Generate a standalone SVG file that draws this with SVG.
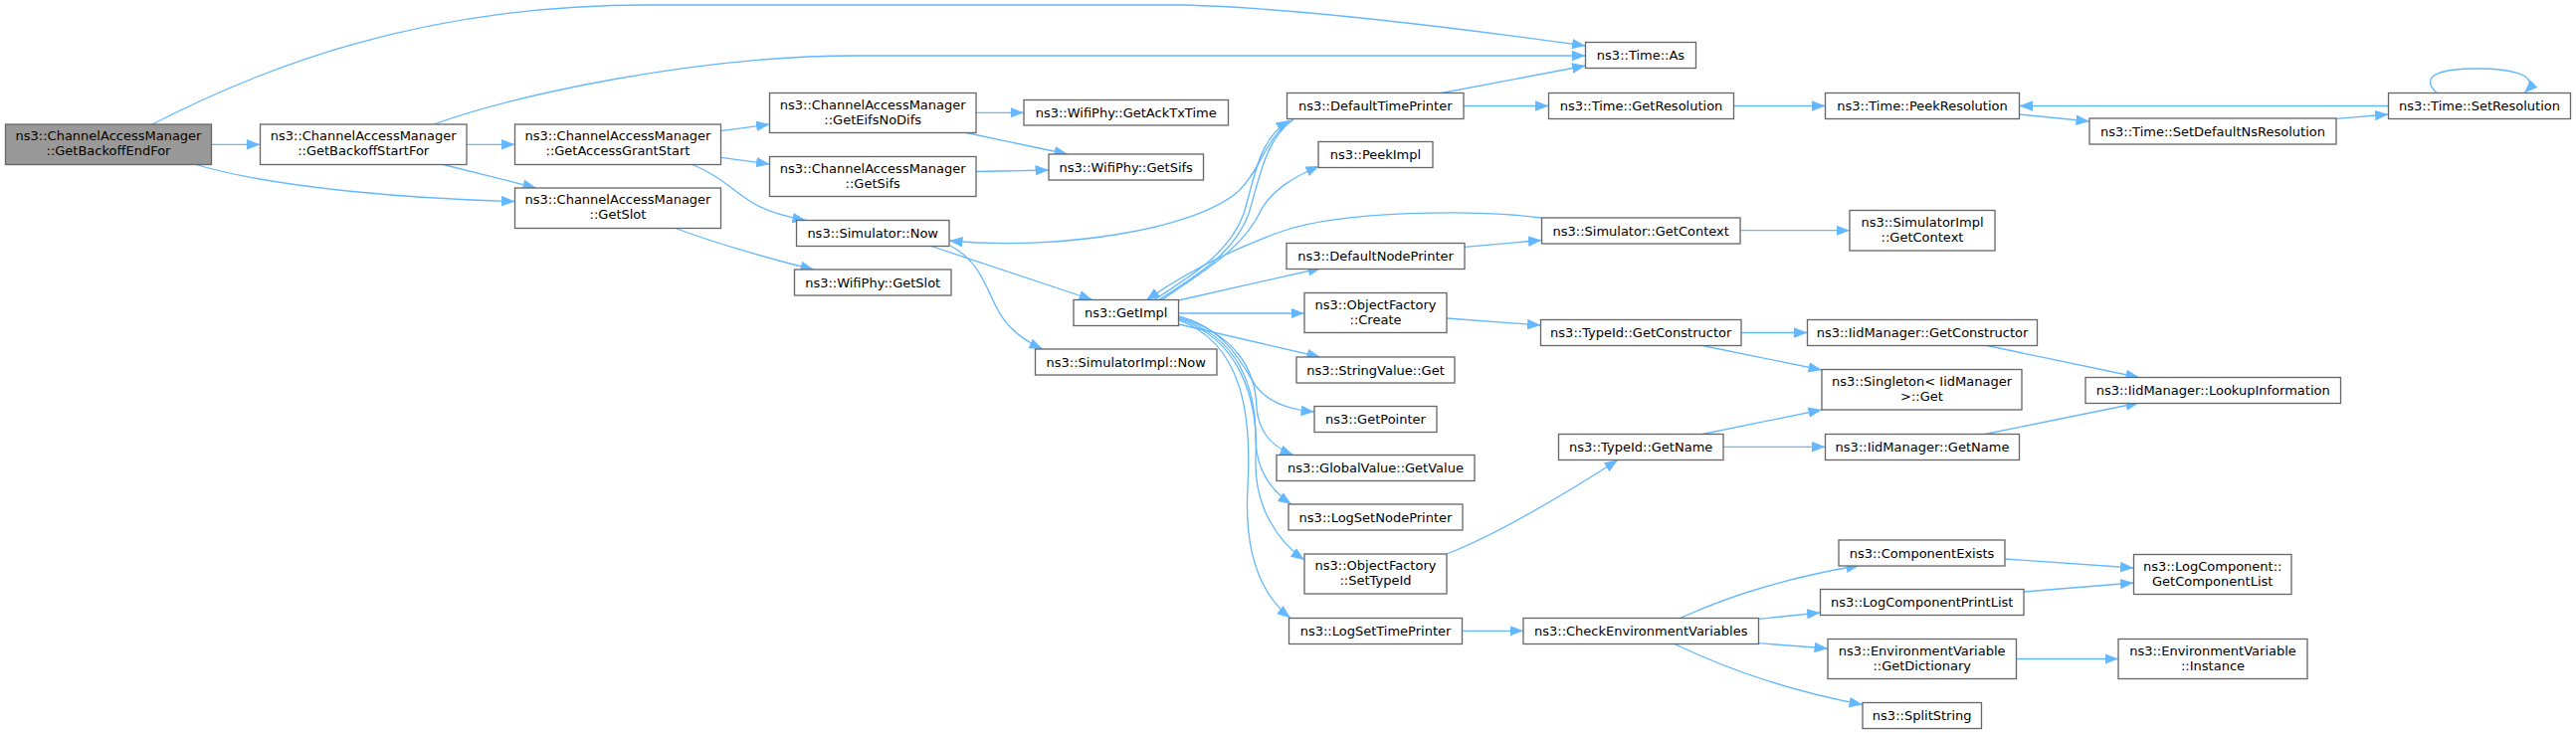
<svg xmlns="http://www.w3.org/2000/svg" width="2589" height="737" viewBox="0 0 2589 737">
<style>
.n rect{fill:#ffffff;stroke:#666666;stroke-width:1.3}
.root rect{fill:#999999}
.n text{font-family:"DejaVu Sans","Liberation Sans",sans-serif;font-size:13px;fill:#000000;text-anchor:middle}
#edges path{fill:none;stroke:#63B8FF;stroke-width:1.3;marker-end:url(#a)}
#edges path.na{marker-end:none}
</style>
<defs>
<marker id="a" markerUnits="userSpaceOnUse" markerWidth="14" markerHeight="11" refX="13.5" refY="5.25" orient="auto">
<path d="M0,0 L13.5,5.25 L0,10.5 z" fill="#63B8FF"/>
</marker>
</defs>
<rect x="0" y="0" width="2589" height="737" fill="#ffffff"/>
<g id="edges">
<path d="M153,125 C260,70 420,5 650,5 L1190,5 C1300,8 1450,26 1593.5,46"/>
<path d="M436,125 C520,95 700,56 860,56 L1593.5,56"/>
<path d="M1449,93.5 L1593.5,66"/>
<path d="M212.5,145.3 L261.5,145.3"/>
<path d="M469,145.3 L517.5,145.3"/>
<path d="M445.6,165.5 L539,189"/>
<path d="M197,165.5 C280,190 420,200 517.5,202.5"/>
<path d="M724.5,131.7 L773.5,125"/>
<path d="M724.5,158.3 L773.5,165"/>
<path d="M696,165.5 C720,175 735,190 755,203 C770,213 790,218 810,221.5"/>
<path d="M679,229.5 C720,245 780,262 818,271"/>
<path d="M981,113.3 L1029,113.3"/>
<path d="M971,133.5 L1073,155"/>
<path d="M981,172.5 L1054,171"/>
<path d="M1300,119.5 C1270,140 1268,170 1245,192 C1200,232 1060,252 954,242"/>
<path d="M936,247.5 L1098,301.5"/>
<path d="M955,247 C985,262 992,292 1002,310 C1012,330 1030,343 1048,351"/>
<path d="M1160,301.5 C1200,275 1235,255 1250,215 C1262,175 1265,140 1296,121"/>
<path d="M1165,301.5 C1205,275 1240,255 1255,215 C1267,175 1272,140 1300,120" class="na"/>
<path d="M1168,301.5 C1210,272 1250,250 1268,210 C1280,190 1300,178 1326,167"/>
<path d="M1549,219 C1480,210 1350,212 1290,232 C1240,250 1190,275 1152,302"/>
<path d="M1184.5,302 L1328,269.5"/>
<path d="M1184.5,315 L1311,315"/>
<path d="M1184.5,326 L1327,359"/>
<path d="M1184.5,318 C1230,330 1245,360 1262,388 C1275,405 1295,412 1321,414"/>
<path d="M1184.5,319 C1240,335 1262,370 1263,410 C1265,435 1280,450 1300,457.5"/>
<path d="M1184.5,320 C1245,338 1262,390 1262,440 C1262,475 1280,495 1298,507"/>
<path d="M1184.5,321 C1245,340 1265,400 1262,460 C1260,510 1285,545 1311,563"/>
<path d="M1184.5,322 C1250,345 1258,420 1254,490 C1250,560 1270,600 1297,621.5"/>
<path d="M1471,106.5 L1556.5,106.5"/>
<path d="M1742.5,106.5 L1834.5,106.5"/>
<path d="M2400.5,106.5 L2029.5,106.5"/>
<path d="M2029.5,115 L2100,122"/>
<path d="M2348,119.3 L2400.5,115"/>
<path d="M2449,93.5 C2430,75 2455,69 2490,69 C2525,69 2555,76 2537,93.5"/>
<path d="M1472,248.3 L1549.5,241.5"/>
<path d="M1749,231.7 L1859,231.7"/>
<path d="M1454,320 L1548.5,327"/>
<path d="M1750,334.5 L1816.5,334.5"/>
<path d="M1711,347.5 L1831,372"/>
<path d="M1997,347.5 L2150,379.5"/>
<path d="M1454,557 C1510,535 1580,492 1626,462.5"/>
<path d="M1711,436.5 L1831,412"/>
<path d="M1732,449.3 L1834.5,449.3"/>
<path d="M1995,436.5 L2150,405"/>
<path d="M1469.5,634.3 L1531,634.3"/>
<path d="M1688.6,621.5 C1740,598 1800,580 1869,568.5"/>
<path d="M1767.5,622.3 L1829.5,616"/>
<path d="M1767.5,646.7 L1837,652"/>
<path d="M1682,647 C1740,675 1800,695 1872,708.5"/>
<path d="M2015,562 L2144.5,571"/>
<path d="M2034,595 L2144.5,586"/>
<path d="M2026.5,662.5 L2129,662.5"/>
</g>
<g id="n0" class="n root"><rect x="5.5" y="125" width="207" height="40.5"/><text x="109" y="141">ns3::ChannelAccessManager</text><text x="109" y="156">::GetBackoffEndFor</text></g>
<g id="n1" class="n"><rect x="261.5" y="125" width="207.5" height="40.5"/><text x="365.2" y="141">ns3::ChannelAccessManager</text><text x="365.2" y="156">::GetBackoffStartFor</text></g>
<g id="n2" class="n"><rect x="517.5" y="125" width="207" height="40.5"/><text x="621" y="141">ns3::ChannelAccessManager</text><text x="621" y="156">::GetAccessGrantStart</text></g>
<g id="n3" class="n"><rect x="517.5" y="189" width="207" height="40.5"/><text x="621" y="205">ns3::ChannelAccessManager</text><text x="621" y="220">::GetSlot</text></g>
<g id="n4" class="n"><rect x="773.5" y="93.5" width="207.5" height="40"/><text x="877.2" y="109.5">ns3::ChannelAccessManager</text><text x="877.2" y="124.5">::GetEifsNoDifs</text></g>
<g id="n5" class="n"><rect x="773.5" y="157.5" width="207.5" height="40"/><text x="877.2" y="173.5">ns3::ChannelAccessManager</text><text x="877.2" y="188.5">::GetSifs</text></g>
<g id="n6" class="n"><rect x="800.5" y="221.5" width="153.5" height="26"/><text x="877.2" y="239">ns3::Simulator::Now</text></g>
<g id="n7" class="n"><rect x="798.5" y="271" width="157.5" height="26"/><text x="877.2" y="288.5">ns3::WifiPhy::GetSlot</text></g>
<g id="n8" class="n"><rect x="1029" y="100.5" width="205.5" height="25.5"/><text x="1131.7" y="118">ns3::WifiPhy::GetAckTxTime</text></g>
<g id="n9" class="n"><rect x="1054" y="155" width="155.5" height="26"/><text x="1131.7" y="172.5">ns3::WifiPhy::GetSifs</text></g>
<g id="n10" class="n"><rect x="1079" y="301.5" width="105.5" height="26"/><text x="1131.7" y="319">ns3::GetImpl</text></g>
<g id="n11" class="n"><rect x="1040.5" y="351" width="182.5" height="26"/><text x="1131.7" y="368.5">ns3::SimulatorImpl::Now</text></g>
<g id="n12" class="n"><rect x="1293.5" y="93.5" width="177.5" height="26"/><text x="1382.2" y="111">ns3::DefaultTimePrinter</text></g>
<g id="n13" class="n"><rect x="1325" y="142.5" width="115" height="26"/><text x="1382.5" y="160">ns3::PeekImpl</text></g>
<g id="n14" class="n"><rect x="1293" y="244.5" width="179" height="26"/><text x="1382.5" y="262">ns3::DefaultNodePrinter</text></g>
<g id="n15" class="n"><rect x="1311" y="294.5" width="143" height="40"/><text x="1382.5" y="310.5">ns3::ObjectFactory</text><text x="1382.5" y="325.5">::Create</text></g>
<g id="n16" class="n"><rect x="1303" y="359" width="159" height="26"/><text x="1382.5" y="376.5">ns3::StringValue::Get</text></g>
<g id="n17" class="n"><rect x="1321" y="408.5" width="123" height="26"/><text x="1382.5" y="426">ns3::GetPointer</text></g>
<g id="n18" class="n"><rect x="1283" y="457.5" width="199" height="26"/><text x="1382.5" y="475">ns3::GlobalValue::GetValue</text></g>
<g id="n19" class="n"><rect x="1295" y="507" width="175" height="26"/><text x="1382.5" y="524.5">ns3::LogSetNodePrinter</text></g>
<g id="n20" class="n"><rect x="1311" y="557" width="143" height="40"/><text x="1382.5" y="573">ns3::ObjectFactory</text><text x="1382.5" y="588">::SetTypeId</text></g>
<g id="n21" class="n"><rect x="1295.5" y="621.5" width="174" height="26"/><text x="1382.5" y="639">ns3::LogSetTimePrinter</text></g>
<g id="n22" class="n"><rect x="1593.5" y="42.5" width="111" height="26"/><text x="1649" y="60">ns3::Time::As</text></g>
<g id="n23" class="n"><rect x="1556.5" y="93.5" width="186" height="26"/><text x="1649.5" y="111">ns3::Time::GetResolution</text></g>
<g id="n24" class="n"><rect x="1549.5" y="219" width="199.5" height="26"/><text x="1649.2" y="236.5">ns3::Simulator::GetContext</text></g>
<g id="n25" class="n"><rect x="1548.5" y="321.5" width="201.5" height="26"/><text x="1649.2" y="339">ns3::TypeId::GetConstructor</text></g>
<g id="n26" class="n"><rect x="1566.5" y="436.5" width="165.5" height="26"/><text x="1649.2" y="454">ns3::TypeId::GetName</text></g>
<g id="n27" class="n"><rect x="1531" y="621.5" width="236.5" height="26"/><text x="1649.2" y="639">ns3::CheckEnvironmentVariables</text></g>
<g id="n28" class="n"><rect x="1834.5" y="93.5" width="195" height="26"/><text x="1932" y="111">ns3::Time::PeekResolution</text></g>
<g id="n29" class="n"><rect x="1859" y="211.5" width="146" height="40.5"/><text x="1932" y="227.5">ns3::SimulatorImpl</text><text x="1932" y="242.5">::GetContext</text></g>
<g id="n30" class="n"><rect x="1816.5" y="321.5" width="231" height="26"/><text x="1932" y="339">ns3::IidManager::GetConstructor</text></g>
<g id="n31" class="n"><rect x="1831" y="371.5" width="201" height="40.5"/><text x="1931.5" y="387.5">ns3::Singleton&lt; IidManager</text><text x="1931.5" y="402.5">&gt;::Get</text></g>
<g id="n32" class="n"><rect x="1834.5" y="436.5" width="195" height="26"/><text x="1932" y="454">ns3::IidManager::GetName</text></g>
<g id="n33" class="n"><rect x="1848" y="543" width="167" height="26"/><text x="1931.5" y="560.5">ns3::ComponentExists</text></g>
<g id="n34" class="n"><rect x="1829.5" y="592.5" width="204.5" height="26"/><text x="1931.7" y="610">ns3::LogComponentPrintList</text></g>
<g id="n35" class="n"><rect x="1837" y="642.5" width="189.5" height="40"/><text x="1931.7" y="658.5">ns3::EnvironmentVariable</text><text x="1931.7" y="673.5">::GetDictionary</text></g>
<g id="n36" class="n"><rect x="1872" y="706.5" width="119.5" height="26"/><text x="1931.7" y="724">ns3::SplitString</text></g>
<g id="n37" class="n"><rect x="2100" y="119" width="248" height="26"/><text x="2224" y="136.5">ns3::Time::SetDefaultNsResolution</text></g>
<g id="n38" class="n"><rect x="2096" y="379.5" width="256.5" height="26"/><text x="2224.2" y="397">ns3::IidManager::LookupInformation</text></g>
<g id="n39" class="n"><rect x="2144.5" y="557.5" width="158.5" height="40"/><text x="2223.7" y="573.5">ns3::LogComponent::</text><text x="2223.7" y="588.5">GetComponentList</text></g>
<g id="n40" class="n"><rect x="2129" y="642.5" width="190" height="40"/><text x="2224" y="658.5">ns3::EnvironmentVariable</text><text x="2224" y="673.5">::Instance</text></g>
<g id="n41" class="n"><rect x="2400.5" y="93.5" width="183" height="26"/><text x="2492" y="111">ns3::Time::SetResolution</text></g>
</svg>
